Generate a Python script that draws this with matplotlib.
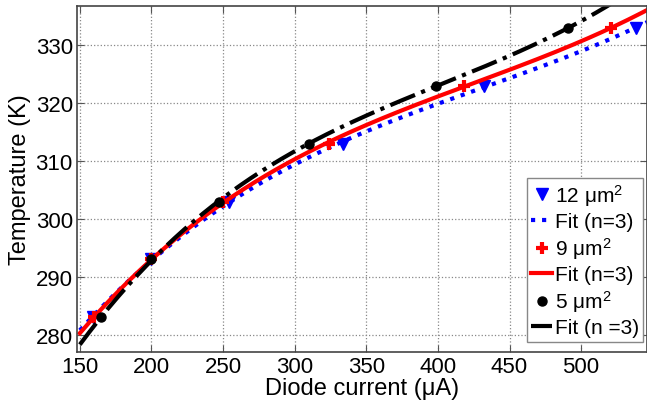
import numpy as np
import matplotlib.pyplot as plt

plt.rcParams['font.family'] = ['Liberation Sans', 'DejaVu Sans']
plt.rcParams['mathtext.fontset'] = 'custom'
plt.rcParams['mathtext.rm'] = 'Liberation Sans'
plt.rcParams['mathtext.it'] = 'Liberation Sans'

# Measured diode current (uA) at each temperature (K)
temp = [283, 293, 303, 313, 323, 333]
i_12um = [159, 200, 254, 334, 432, 538]
i_9um = [160, 200, 250, 324, 418, 521]
i_5um = [165, 200, 247, 310, 399, 491]

x_ticks = [150, 200, 250, 300, 350, 400, 450, 500]
y_ticks = [280, 290, 300, 310, 320, 330]

fig = plt.figure(figsize=(6.47, 4.06), dpi=100)
ax = fig.add_axes([77 / 647, 53 / 406, 570 / 647, 346 / 406])

xf = np.linspace(150, 546, 300)


def fit3(x, y):
    return np.polyval(np.polyfit(x, y, 3), xf)


ax.plot(i_12um, temp, 'v', color='blue', ms=9, label='12 μm$^2$')
ax.plot(xf, fit3(i_12um, temp), ':', color='blue', lw=3, label='Fit (n=3)')
ax.plot(i_9um, temp, '+', color='red', ms=9, mew=3, label='9 μm$^2$')
ax.plot(xf, fit3(i_9um, temp), '-', color='red', lw=3, label='Fit (n=3)')
ax.plot(i_5um, temp, 'o', color='black', ms=6.5, label='5 μm$^2$')
ax.plot(xf, fit3(i_5um, temp), '-.', color='black', lw=3, label='Fit (n =3)')

ax.set_xlim(148, 546)
ax.set_ylim(277, 336.8)
ax.set_xticks(x_ticks)
ax.set_yticks(y_ticks)
ax.tick_params(direction='in', labelsize=16, top=True, right=True, length=5,
               color='#555555', pad=3)
ax.grid(True, linestyle=':', color='#888888', lw=0.9)
for s in ax.spines.values():
    s.set_color('#444444')
    s.set_linewidth(1.2)

ax.set_xlabel('Diode current (μA)', fontsize=17, labelpad=0)
ax.set_ylabel('Temperature (K)', fontsize=17, labelpad=3)

leg = ax.legend(loc='lower right', bbox_to_anchor=(1.012, 0.0), fontsize=15,
                handlelength=1.0, handletextpad=0.15, borderpad=0.2, labelspacing=0.2,
                fancybox=False, framealpha=1, edgecolor='#888888')
leg.get_frame().set_linewidth(1.0)

fig.savefig('out.png', dpi=100)
